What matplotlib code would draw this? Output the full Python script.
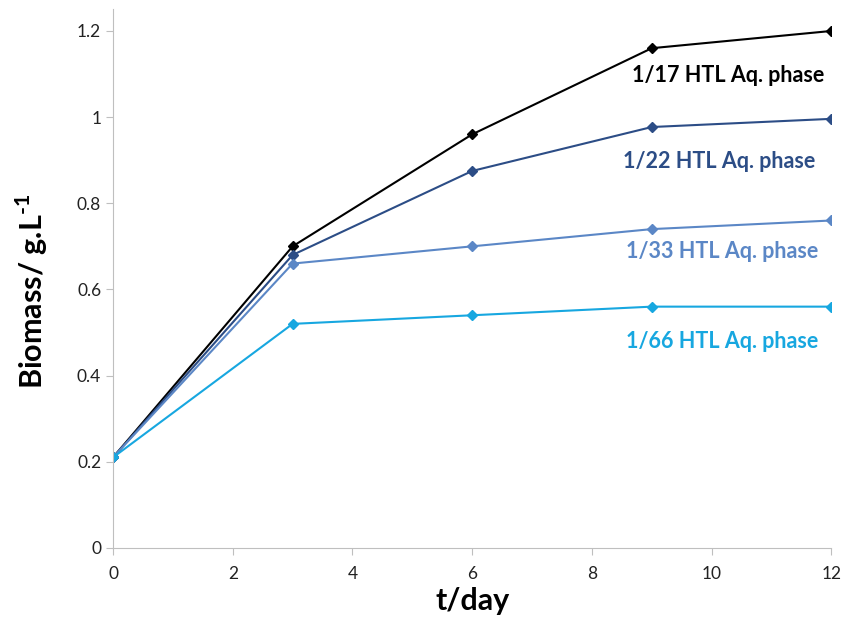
import matplotlib
matplotlib.use("Agg")
import matplotlib.pyplot as plt

# Data
days = [0, 3, 6, 9, 12]
dil_17 = [0.21, 0.70, 0.96, 1.16, 1.20]
dil_22 = [0.21, 0.68, 0.875, 0.977, 0.996]
dil_33 = [0.21, 0.66, 0.70, 0.74, 0.76]
dil_66 = [0.21, 0.52, 0.54, 0.56, 0.56]

series_labels = ["1/17 HTL Aq. phase", "1/22 HTL Aq. phase",
                 "1/33 HTL Aq. phase", "1/66 HTL Aq. phase"]
colors = ["#000000", "#2C4D86", "#5B87C6", "#17A7E0"]
label_pos = [(10.28, 1.096), (10.12, 0.898), (10.18, 0.687), (10.18, 0.48)]

plt.rcParams['font.family'] = ['Lato', 'DejaVu Sans']
plt.rcParams['mathtext.fontset'] = 'custom'
plt.rcParams['mathtext.rm'] = 'Lato:bold'
plt.rcParams['mathtext.bf'] = 'Lato:bold'

fig = plt.figure(figsize=(8.5, 6.29), dpi=100)
ax = fig.add_axes([0.133, 0.129, 0.845, 0.856])

for vals, col, lab, (lx, ly) in zip([dil_17, dil_22, dil_33, dil_66],
                                   colors, series_labels, label_pos):
    ax.plot(days, vals, color=col, marker='D', markersize=5, linewidth=1.5)
    ax.text(lx, ly, lab, color=col, fontsize=15.5, fontweight='bold',
            ha='center', va='center')

ax.set_xlim(0, 12)
ax.set_ylim(0, 1.25)
ax.set_xticks(range(0, 13, 2))
ax.set_yticks([0, 0.2, 0.4, 0.6, 0.8, 1.0, 1.2])
ax.set_yticklabels(["0", "0.2", "0.4", "0.6", "0.8", "1", "1.2"])

for s in ["top", "right"]:
    ax.spines[s].set_visible(False)
for s in ["left", "bottom"]:
    ax.spines[s].set_color("#BFBFBF")
ax.tick_params(colors="#BFBFBF", labelcolor="#222222", labelsize=12.5,
               length=5, direction="out")
ax.tick_params(axis="x", pad=8)

ax.set_xlabel("t/day", fontsize=22, fontweight="bold", labelpad=4)
ax.set_ylabel("Biomass/ g.L$^{\\text{-1}}$", fontsize=22, fontweight="bold")
ax.yaxis.set_label_coords(-0.088, 0.476)

fig.savefig("out.png", dpi=100)
